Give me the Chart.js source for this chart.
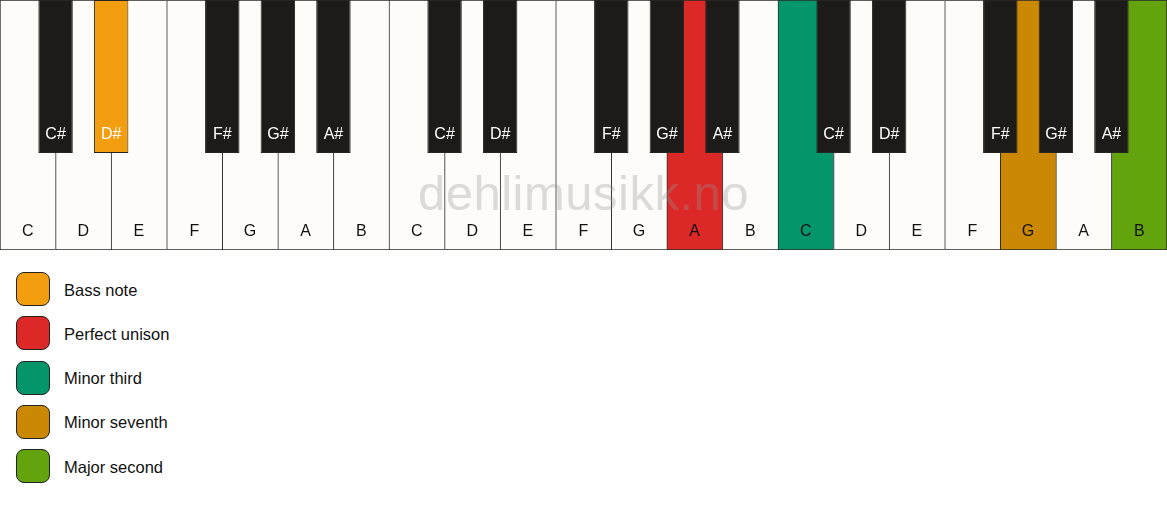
<!DOCTYPE html>
<html>
<head>
<meta charset="utf-8">
<script src="https://cdn.jsdelivr.net/npm/chart.js@4.4.1/dist/chart.umd.min.js"></script>
<style>
    body { margin: 0; background: #ffffff; font-family: "Liberation Sans", Arial, sans-serif; }
    #keyboard-wrap { position: relative; width: 1167px; height: 250px; }
    #legend { list-style: none; margin: 22px 0 0 0; padding: 0; }
    #legend li { display: flex; align-items: center; height: 34px; margin-bottom: 10.25px; }
    #legend .swatch {
        box-sizing: border-box; width: 34px; height: 34px; margin-left: 16px; margin-right: 14px;
        border: 1.5px solid #222; border-radius: 8px;
    }
    #legend span { font-size: 16.5px; color: #111; position: relative; top: 1px; }
</style>
</head>
<body>
<div id="keyboard-wrap"><canvas id="keyboard"></canvas></div>
<ul id="legend"></ul>
<script>
// Keys of three octaves: white keys left to right, black keys by boundary between white keys (0..21)
const whiteKeys = ["C", "D", "E", "F", "G", "A", "B", "C", "D", "E", "F", "G", "A", "B", "C", "D", "E", "F", "G", "A", "B"];
const blackKeys = [null, "C#", "D#", null, "F#", "G#", "A#", null, "C#", "D#", null, "F#", "G#", "A#", null, "C#", "D#", null, "F#", "G#", "A#", null];

// Key lengths (white key = 1)
const whiteKeySpan = [0, 1];
const blackKeySpan = [0.388, 1];

// Highlighted notes (note + octave number) and their interval names
const intervalNames = ["Bass note", "Perfect unison", "Minor third", "Minor seventh", "Major second"];
const intervalNotes = ["D#1", "A2", "C3", "G3", "B3"];
const intervalColors = ["#f39e0e", "#dd2828", "#04966a", "#ca8804", "#63a30e"];

const whiteFill = "#fdfcf8";
const blackFill = "#1c1b19";
const keyBorder = "#2a2a2a";

function whiteId(i) {
    return whiteKeys[i] + (Math.floor(i / 7) + 1);
}

function blackId(b) {
    return blackKeys[b] + (Math.floor((b - 1) / 7) + 1);
}

function noteColor(id, fallback) {
    let i = intervalNotes.indexOf(id);
    return i >= 0 ? intervalColors[i] : fallback;
}

// Draws note names inside the keys and the watermark
const keyLabels = {
    id: "keyLabels",
    afterDatasetsDraw(chart) {
        const c = chart.ctx;
        const area = chart.chartArea;
        c.save();

        c.font = "49px 'Liberation Sans', Arial, sans-serif";
        if ("letterSpacing" in c) c.letterSpacing = "0.5px";
        c.fillStyle = "rgba(150, 150, 150, 0.33)";
        c.textAlign = "center";
        c.textBaseline = "alphabetic";
        c.fillText("dehlimusikk.no", (area.left + area.right) / 2, 210);
        if ("letterSpacing" in c) c.letterSpacing = "0px";

        c.font = "16px 'Liberation Sans', Arial, sans-serif";
        c.textBaseline = "middle";

        const white = chart.getDatasetMeta(1);
        c.fillStyle = "#111111";
        white.data.forEach((el, i) => {
            c.fillText(whiteKeys[i], el.x, area.bottom - 18);
        });

        const black = chart.getDatasetMeta(0);
        c.fillStyle = "#ffffff";
        black.data.forEach((el, b) => {
            if (!blackKeys[b]) return;
            c.fillText(blackKeys[b], el.x, Math.max(el.y, el.base) - 18);
        });
        c.restore();
    },
};

const ctx = document.getElementById("keyboard").getContext("2d");
const chart = new Chart(ctx, {
    type: "bar",
    data: {
        labels: whiteKeys,
        datasets: [
            {
                label: "Black keys",
                data: blackKeys.map((n) => (n ? blackKeySpan : null)),
                xAxisID: "xb",
                order: 0,
                grouped: false,
                barPercentage: 0.62,
                categoryPercentage: 1,
                backgroundColor: (c) => noteColor(blackId(c.dataIndex), blackFill),
                borderColor: "#262523",
                borderWidth: 1,
                borderSkipped: false,
            },
            {
                label: "White keys",
                data: whiteKeys.map(() => whiteKeySpan),
                xAxisID: "x",
                order: 1,
                grouped: false,
                barPercentage: 1,
                categoryPercentage: 1,
                backgroundColor: (c) => noteColor(whiteId(c.dataIndex), whiteFill),
                borderColor: keyBorder,
                borderWidth: (c) => ({ left: 1, top: 1, bottom: 1, right: c.dataIndex === whiteKeys.length - 1 ? 1 : 0 }),
                borderSkipped: false,
            },
        ],
    },
    options: {
        responsive: true,
        maintainAspectRatio: false,
        animation: false,
        layout: { padding: 0 },
        scales: {
            x: { type: "category", labels: whiteKeys, offset: true, display: false },
            xb: { type: "category", labels: blackKeys.map((n, i) => String(i)), offset: false, display: false, ticks: { autoSkip: false } },
            y: { min: 0, max: 1, display: false },
        },
        plugins: {
            legend: { display: false },
            tooltip: { enabled: false },
        },
    },
    plugins: [keyLabels],
});

// Interval legend under the keyboard
const legend = document.getElementById("legend");
intervalNames.forEach((name, i) => {
    const li = document.createElement("li");
    const sw = document.createElement("div");
    sw.className = "swatch";
    sw.style.background = intervalColors[i];
    const txt = document.createElement("span");
    txt.textContent = name;
    li.appendChild(sw);
    li.appendChild(txt);
    legend.appendChild(li);
});
</script>
</body>
</html>
